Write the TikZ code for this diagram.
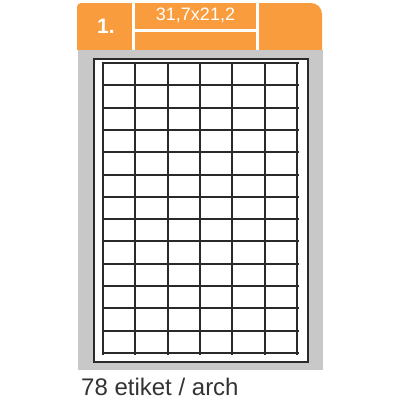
\documentclass[tikz,border=0pt]{standalone}
\usepackage{fontspec}
\setmainfont{Liberation Sans}
\definecolor{hdrorange}{HTML}{F99C3D}
\definecolor{panelgray}{HTML}{C8C8C8}
\definecolor{gridink}{HTML}{2A2A2A}
\definecolor{labelink}{HTML}{333333}
\tikzset{
  gridline/.style={draw=gridink, line width=2pt},
  framebox/.style={draw=gridink, line width=2pt, fill=white},
  hdrtext/.style={text=white, inner sep=0pt},
}
\begin{document}
\begin{tikzpicture}[x=1pt,y=-1pt]
\useasboundingbox (0,0) rectangle (400,400);
% header
\fill[hdrorange] (77,50) [rounded corners=4pt] -- (77,3) [rounded corners=11pt] -- (322,3) [sharp corners] -- (322,50) -- cycle;
\fill[white] (132,0) rectangle (134.5,50);
\fill[white] (256,0) rectangle (258.5,50);
\fill[white] (134.5,29) rectangle (256,31.5);
\node[hdrtext, font=\bfseries\fontsize{21}{21}\selectfont] (num) at (106,26) {1.};
\node[hdrtext, font=\fontsize{18}{18}\selectfont, anchor=base] (size) at (195.5,20) {31,7x21,2};
% gray panel
\fill[panelgray] (78,50) rectangle (323,370);
% sheet
\draw[framebox] (94,59) rectangle (308,362);
% grid
\foreach \i in {0,...,6} {
  \draw[gridline] ({103+\i*32.33},63) -- ({103+\i*32.33},355);
}
\foreach \j in {0,...,13} {
  \draw[gridline] (102,{63+\j*22.31}) -- (299,{63+\j*22.31});
}
% label
\node[anchor=base west, inner sep=0pt, text=labelink, font=\fontsize{24}{24}\selectfont] (caption) at (81,395) {78 etiket / arch};
\end{tikzpicture}
\end{document}
